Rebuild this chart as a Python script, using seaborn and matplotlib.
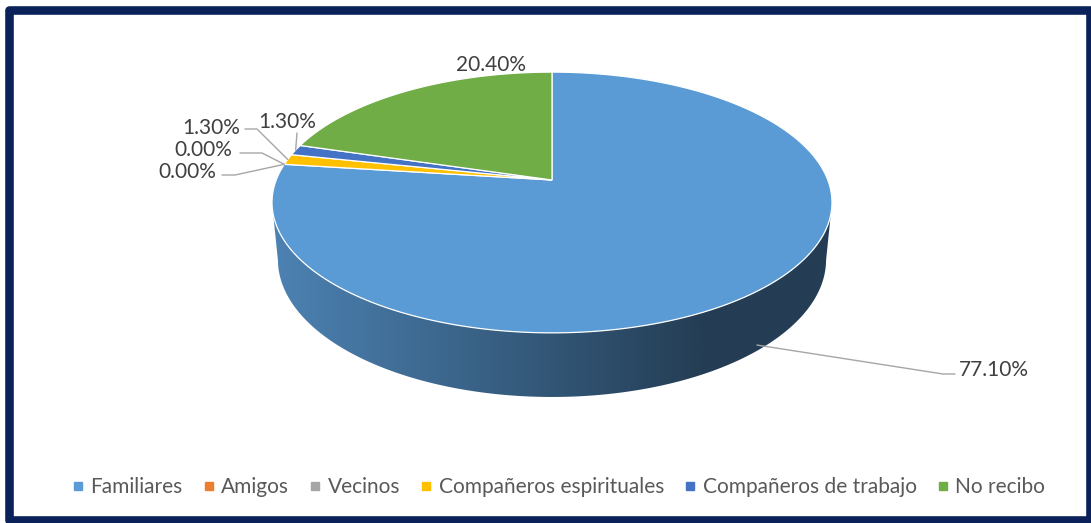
import numpy as np
import matplotlib
matplotlib.use("Agg")
import matplotlib.pyplot as plt
import seaborn as sns
from matplotlib.patches import Polygon, Rectangle
from matplotlib.lines import Line2D

# data
categories = ['Familiares', 'Amigos', 'Vecinos', 'Compañeros espirituales',
              'Compañeros de trabajo', 'No recibo']
percent = [77.1, 0.0, 0.0, 1.3, 1.3, 20.4]
colors = ['#5b9bd5', '#ed7d31', '#a5a5a5', '#ffc000', '#4472c4', '#70ad47']

# label layout (pixel positions) and leader elbows
label_pos = [(994, 368), (187, 170), (203, 148), (211, 126), (287, 120), (491, 63)]
leader_elbow = [[(943, 374), (955, 374)], [(235, 175), (222, 175)],
                [(262, 153), (240, 153)], [(257, 129), (245, 129)],
                [(297, 133)], None]

sns.set_theme(style='white')
plt.rcParams['font.family'] = ['Lato', 'DejaVu Sans']

W, H = 1091, 523
fig = plt.figure(figsize=(W / 100, H / 100), dpi=100)
ax = fig.add_axes([0, 0, 1, 1])

# perspective camera for the 3D pie
C, S = np.cos(np.radians(27.3)), np.sin(np.radians(27.3))
D, F, T = 5.152, 1420.9, 0.235
CX, CY = 552, 180


def project(u, w, h=0.0):
    yc = w * S + h * C
    zc = D + w * C - h * S
    return CX + F * u / zc, CY - F * yc / zc


wedges, _ = ax.pie(percent, startangle=90, counterclock=False, colors=colors)
for wd in wedges:
    wd.remove()
ax.set_aspect('auto')
ax.set_xlim(0, W)
ax.set_ylim(H, 0)
ax.axis('off')

# side of the pie (front half only) with horizontal shading
lo_vis = -180 + np.degrees(np.arcsin(C / D))
hi_vis = -np.degrees(np.arcsin(C / D))
xs = np.linspace(0, W, 600)
shade = 0.84 - 0.44 * np.clip((xs - 272) / (700 - 272), 0, 1)
for wd, col in zip(wedges, colors):
    t1, t2 = wd.theta1, wd.theta2
    if t2 - t1 < 1e-6:
        continue
    for off in (-360, 0, 360):
        a, b = max(t1 + off, lo_vis), min(t2 + off, hi_vis)
        if b <= a:
            continue
        ang = np.radians(np.linspace(a, b, 200))
        top = [project(np.cos(g), np.sin(g)) for g in ang]
        bot = [project(np.cos(g), np.sin(g), -T) for g in ang[::-1]]
        poly = Polygon(top + bot, closed=True, facecolor='none', edgecolor='none')
        ax.add_patch(poly)
        rgb = np.array(matplotlib.colors.to_rgb(col))
        grad = (shade[:, None] * rgb[None, :])[None, :, :]
        im = ax.imshow(grad, extent=(0, W, H, 0), aspect='auto', zorder=1)
        im.set_clip_path(poly)

# top face of the pie
for wd, col in zip(wedges, colors):
    t1, t2 = wd.theta1, wd.theta2
    if t2 - t1 < 1e-6:
        continue
    ang = np.radians(np.linspace(t1, t2, 300))
    pts = [project(0, 0)] + [project(np.cos(g), np.sin(g)) for g in ang]
    ax.add_patch(Polygon(pts, closed=True, facecolor=col, edgecolor='white',
                         linewidth=0.9, zorder=2))

# data labels with leader lines
for i, (wd, val) in enumerate(zip(wedges, percent)):
    mid = np.radians((wd.theta1 + wd.theta2) / 2)
    if leader_elbow[i] is not None:
        h = -0.9 * T if i == 0 else 0.0
        start = project(np.cos(mid), np.sin(mid), h)
        pts = [start] + leader_elbow[i]
        ax.add_line(Line2D([p[0] for p in pts], [p[1] for p in pts],
                           color='#a6a6a6', lw=1.0, zorder=3))
    ax.text(label_pos[i][0], label_pos[i][1], f'{val:.2f}%', ha='center',
            va='center_baseline', fontsize=15, color='#404040', zorder=4)

# legend
handles = [Line2D([], [], marker='s', linestyle='none', markersize=6,
                  markerfacecolor=c, markeredgecolor=c) for c in colors]
fig.legend(handles, categories, loc='center', bbox_to_anchor=(0.511, 1 - 487 / H),
           ncol=6, frameon=False, fontsize=15, handletextpad=0.2,
           columnspacing=0.85, labelcolor='#595959', handlelength=0.8)

# dark frame
fig.patches.append(Rectangle((9 / W, 3 / H), 1081 / W, 510.5 / H,
                             transform=fig.transFigure, fill=False,
                             edgecolor='#0a215a', linewidth=6.2,
                             joinstyle='round'))

fig.savefig('out.png', dpi=100)
